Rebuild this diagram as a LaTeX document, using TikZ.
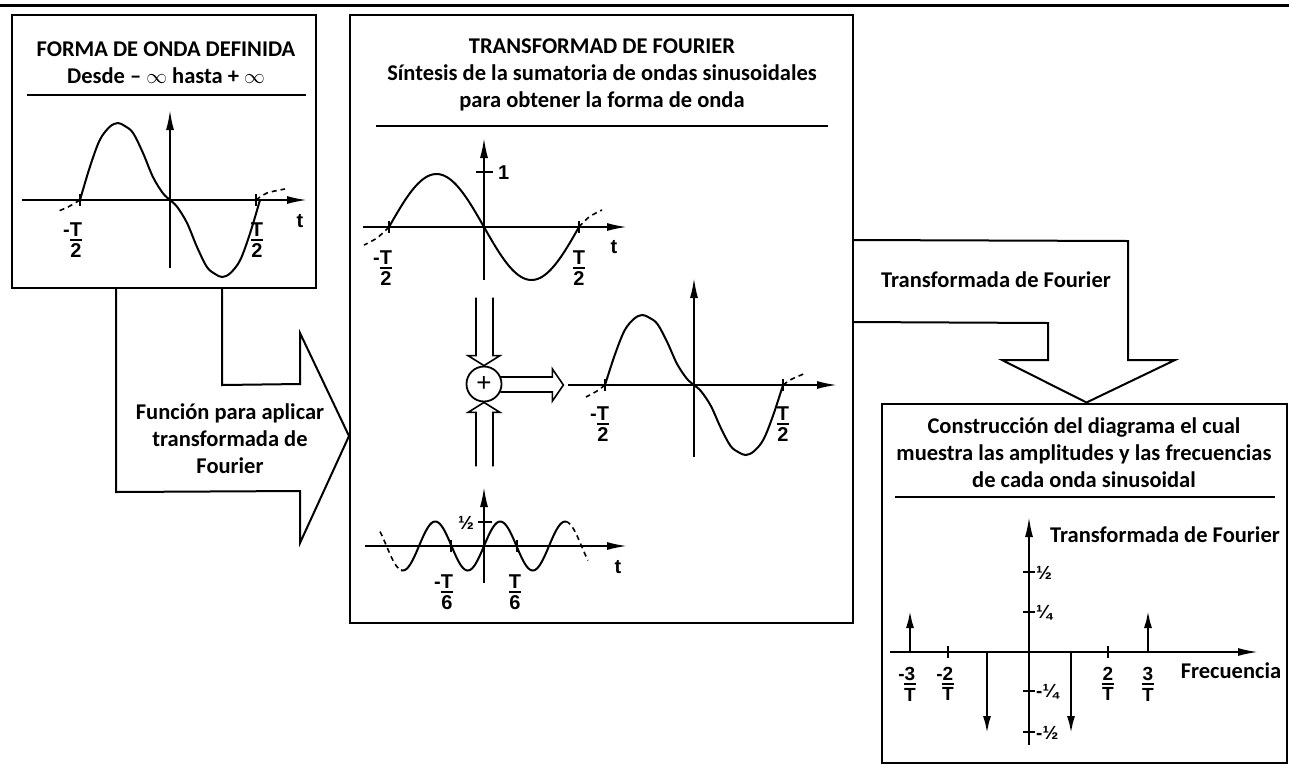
\documentclass[tikz,border=0pt]{standalone}
\usepackage{fontspec}
\setmainfont{Carlito}
\newfontfamily\labfont{Liberation Sans}
\usetikzlibrary{arrows.meta,calc}
\newcommand\fr[2]{\vbox{\halign{\hfil##\hfil\cr #1\cr\noalign{\kern3pt\hrule height 1.5pt\kern3pt}#2\cr}}}
\begin{document}
\begin{tikzpicture}[x=1pt,y=-1pt,line join=miter,
 boxst/.style={draw, line width=2pt, inner sep=0pt},
 ttl/.style={font=\bfseries\fontsize{22.5}{27}\selectfont, align=center, inner sep=0pt},
 lab/.style={font=\labfont\bfseries\fontsize{20}{22}\selectfont, inner sep=0pt},
 slab/.style={font=\labfont\bfseries\fontsize{19}{21}\selectfont, inner sep=0pt},
 tlab/.style={font=\labfont\bfseries\fontsize{19}{21}\selectfont, inner sep=0pt},
 ax/.style={line width=1.8pt, -{Latex[length=20pt,width=8pt]}},
 wave/.style={line width=2pt},
 dsh/.style={line width=1.6pt, dash pattern=on 5pt off 4pt},
 blk/.style={line width=2pt},
 dbl/.style={line width=1.6pt},
 spk/.style={line width=2.6pt, -{Latex[length=18pt,width=8pt]}},
 tck/.style={line width=1.6pt},
 rul/.style={line width=2pt}]
\useasboundingbox (0,0) rectangle (1289,764);
\draw[line width=3pt] (0,5) -- (1289,5);

% boxes
\node[boxst, minimum width=304pt, minimum height=273pt] (lbox) at (164,151.5) {};
\node[boxst, minimum width=503pt, minimum height=608pt] (mbox) at (601.5,319) {};
\node[boxst, minimum width=405pt, minimum height=359pt] (rbox) at (1084.5,583) {};

% titles
\node[ttl] (lt) at (166,63) {FORMA DE ONDA DEFINIDA\\Desde -- $\infty$ hasta + $\infty$};
\draw[rul] (27,95) -- (306,95);
\node[ttl] (mt) at (602,75) {TRANSFORMAD DE FOURIER\\Síntesis de la sumatoria de ondas sinusoidales\\para obtener la forma de onda};
\draw[rul] (376,126) -- (828,126);
\node[ttl] (rt) at (1084,453) {Construcción del diagrama el cual\\muestra las amplitudes y las frecuencias\\de cada onda sinusoidal};
\draw[rul] (895,497) -- (1275,497);

% block arrow left
\draw[blk] ($(lbox.south west)+(105,0)$) -- ($(lbox.south west)+(105,203)$) -- (300,491) -- (300,543)
  -- ($(mbox.north west)+(0,422)$) -- (300,333) -- (300,384) -- ($(lbox.south west)+(211,96)$) -- ($(lbox.south west)+(211,0)$);
\node[ttl] (la) at (230,439) {Función para aplicar\\transformada de\\Fourier};

% block arrow right
\draw[blk] ($(mbox.north east)+(0,226)$) -- (1128,241) -- (1128,360) -- (1175,360) -- ($(rbox.north)+(2,0)$)
  -- (1002,360) -- (1048,360) -- (1048,323) -- ($(mbox.north east)+(0,308)$);
\node[ttl] (ra) at (996,280) {Transformada de Fourier};

% skew waves
\foreach \cx/\cy/\sx/\sy in {170/200/90/77, 694/385/89/70}{
 \begin{scope}[shift={(\cx,\cy)},xscale=\sx,yscale=-\sy]
  \draw[wave] plot[smooth,tension=0.55] coordinates {(-1,0) (-0.89,0.43) (-0.78,0.78) (-0.67,0.95) (-0.58,1) (-0.5,0.96) (-0.41,0.87) (-0.3,0.61) (-0.19,0.3) (-0.08,0.09) (0,0) (0.08,-0.09) (0.19,-0.3) (0.3,-0.61) (0.41,-0.87) (0.5,-0.96) (0.58,-1) (0.67,-0.95) (0.78,-0.78) (0.89,-0.43) (1,0)};
 \end{scope}
}
% left graph
\draw[ax] (22,200) -- (307,200);
\draw[ax] (170,268) -- (170,110);
\draw[dsh] plot[smooth] coordinates {(80,200) (68,207) (56,212)};
\draw[dsh] plot[smooth] coordinates {(256,200) (267,193) (285,189)};
\draw[tck] (80,194) -- (80,206) (256,194) -- (256,206);
\node[lab] (l1) at (76,240) {\fr{\llap{-}T}{2}};
\node[lab] (l2) at (257,240) {\fr{T}{2}};
\node[lab] (l3) at (300,221) {t};

% top sine
\draw[ax] (363,227) -- (627,227);
\draw[ax] (484,280) -- (484,138);
\draw[wave] plot[domain=-1:1,samples=80,smooth] ({484+95*\x},{227+53*sin(180*\x)});
\draw[dsh] plot[smooth] coordinates {(389,227) (377,238) (364,245)};
\draw[dsh] plot[smooth] coordinates {(579,227) (589,217) (602,210)};
\draw[tck] (389,221) -- (389,233) (579,221) -- (579,233);
\draw[tck] (476,172) -- (493,172);
\node[lab,anchor=west] (s1) at (498,173) {1};
\node[lab] (s2) at (386,268) {\fr{\llap{-}T}{2}};
\node[lab] (s3) at (579,268) {\fr{T}{2}};
\node[lab] (s4) at (614,247) {t};

% middle result wave
\draw[ax] (568,385) -- (837,385);
\draw[ax] (694,457) -- (694,278);
\draw[dsh] plot[smooth] coordinates {(605,385) (597,391) (586,397)};
\draw[dsh] plot[smooth] coordinates {(783,385) (792,379) (806,373)};
\draw[tck] (605,379) -- (605,391) (783,379) -- (783,391);
\node[lab] (w1) at (603,424) {\fr{\llap{-}T}{2}};
\node[lab] (w2) at (783,424) {\fr{T}{2}};

% summing node and double arrows
\node[draw, circle, line width=1.8pt, minimum size=35pt, inner sep=0pt, font=\labfont\fontsize{26}{26}\selectfont] (plus) at (484,384) {+};
\draw[dbl] ($(plus.north)+(-8,-68)$) -- ($(plus.north)+(-8,-10)$) -- ($(plus.north)+(-16,-10)$) -- (plus.north)
  -- ($(plus.north)+(16,-10)$) -- ($(plus.north)+(9,-10)$) -- ($(plus.north)+(9,-68)$);
\draw[dbl] ($(plus.south)+(-8,64)$) -- ($(plus.south)+(-8,10)$) -- ($(plus.south)+(-16,10)$) -- (plus.south)
  -- ($(plus.south)+(16,10)$) -- ($(plus.south)+(9,10)$) -- ($(plus.south)+(9,64)$);
\coordinate (ptip) at ($(plus.east)+(61,1)$);
\draw[dbl] ($(plus.east)+(-2,-7)$) -- ($(plus.east)+(50,-7)$) -- ($(plus.east)+(50,-15)$) -- (ptip)
  -- ($(plus.east)+(50,17)$) -- ($(plus.east)+(50,8)$) -- ($(plus.east)+(-2,8)$);

% bottom wave
\draw[ax] (365,546) -- (627,546);
\draw[ax] (484,583) -- (484,487);
\draw[wave] plot[domain=401:566,samples=120,smooth] (\x,{546-24.5*sin(5.53846*(\x-484))});
\draw[dsh] plot[domain=380:401,samples=10,smooth] (\x,{546-24.5*sin(5.53846*(\x-484))});
\draw[dsh] plot[domain=566:588,samples=10,smooth] (\x,{546-24.5*sin(5.53846*(\x-484))});
\draw[tck] (451,540) -- (451,552) (517,540) -- (517,552);
\draw[tck] (478,522) -- (492,522);
\node[tlab] (b1) at (466,523) {½};
\node[lab] (b2) at (447,592) {\fr{\llap{-}T}{6}};
\node[lab] (b3) at (515,592) {\fr{T}{6}};
\node[lab] (b4) at (618,567) {t};

% spectrum
\draw[ax] (890,652) -- (1258,652);
\draw[ax] (1029,745) -- (1029,517);
\foreach \yy in {572,612,691,732} \draw[tck] (1023,\yy) -- (1035,\yy);
\draw[tck] (948,646) -- (948,658) (1108,646) -- (1108,658);
\node[tlab,anchor=west] (f1) at (1036,573) {½};
\node[tlab,anchor=west] (f2) at (1036,613) {¼};
\node[tlab,anchor=west] (f3) at (1036,692) {-¼};
\node[tlab,anchor=west] (f4) at (1036,733) {-½};
\draw[spk] (910,652) -- (910,610);
\draw[spk] (1148,652) -- (1148,610);
\draw[spk] (987,652) -- (987,734);
\draw[spk] (1071,652) -- (1071,734);
\node[slab] (g1) at (910,684) {\fr{\llap{-}3}{T}};
\node[slab] (g2) at (948,684) {\fr{\llap{-}2}{T}};
\node[slab] (g3) at (1108,684) {\fr{2}{T}};
\node[slab] (g4) at (1148,684) {\fr{3}{T}};
\node[ttl] (fq) at (1231,671) {Frecuencia};
\node[ttl] (ft) at (1165,535) {Transformada de Fourier};
\end{tikzpicture}
\end{document}
